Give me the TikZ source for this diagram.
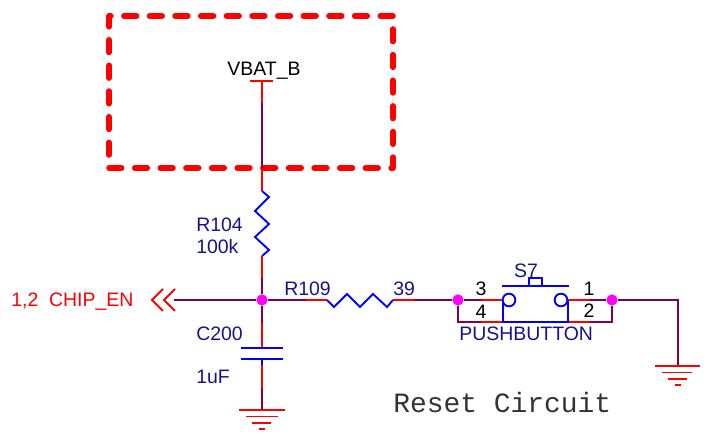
\documentclass[tikz,border=0pt]{standalone}
\usepackage{fontspec}
\setmainfont{Liberation Sans}
\newfontfamily\monofont{Liberation Mono}
\definecolor{wirecol}{RGB}{128,0,80}
\definecolor{labelcol}{RGB}{20,20,140}
\definecolor{dotcol}{RGB}{255,0,255}
\begin{document}
\begin{tikzpicture}[x=0.75pt,y=-0.75pt]
\tikzstyle{wire}=[draw=wirecol, line width=1.4pt]
\tikzstyle{pin}=[draw=red, line width=1.4pt]
\tikzstyle{part}=[draw=blue, line width=1.4pt]
\tikzstyle{dot}=[circle, fill=dotcol, inner sep=0pt, minimum size=8.2pt]
\tikzstyle{tx}=[inner sep=0pt, font=\fontsize{14.6}{16}\selectfont]
\tikzstyle{lbl}=[tx, text=labelcol]
\useasboundingbox (0,0) rectangle (708,438);

% outline round the supply
\draw[red, line width=4.4pt, line cap=round, line join=round, dash pattern=on 9.3pt off 9.935pt] (124,16) -- (393,16) -- (393,168) -- (109,168) -- (109,16) -- cycle;

\coordinate (VB) at (262,81);
\coordinate (VBa) at (262,103);
\coordinate (VBb) at (262,168);
\coordinate (R1a) at (262,191);
\coordinate (R1b) at (262,256);
\coordinate (R1c) at (262,278);
\node[dot] (J1) at (262,300) {};
\coordinate (C1a) at (262,323);
\coordinate (C1b) at (262,347);
\coordinate (C1c) at (262,359);
\coordinate (C1d) at (262,365);
\coordinate (C1e) at (262,388);
\coordinate (G1) at (262,410);

\coordinate (EN) at (174,300);
\coordinate (R2a) at (306,300);
\coordinate (R2b) at (327,300);
\coordinate (R2c) at (393,300);
\coordinate (R2d) at (415,300);
\node[dot] (J2) at (458,300) {};
\node[dot] (J3) at (612,300) {};
\coordinate (P3) at (481,300);
\coordinate (P3b) at (503,300);
\coordinate (P1) at (590,300);
\coordinate (P1b) at (568,300);
\coordinate (Q4) at (458,322);
\coordinate (P4) at (481,322);
\coordinate (P4b) at (503,322);
\coordinate (P2b) at (568,322);
\coordinate (P2) at (590,322);
\coordinate (Q2) at (612,322);
\coordinate (T1) at (678,300);
\coordinate (G2) at (678,366);

% net
\draw[pin] (VB) -- (VBa);
\draw[wire] (VBa) -- (VBb);
\draw[pin] (VBb) -- (R1a);
\draw[pin] (R1b) -- (R1c);
\draw[wire] (R1c) -- (J1);
\draw[wire] (J1) -- (C1a);
\draw[pin] (C1a) -- (C1b);
\draw[pin] (C1d) -- (C1e);
\draw[wire] (C1e) -- (G1);
\draw[wire] (EN) -- (J1);
\draw[wire] (J1) -- (R2a);
\draw[pin] (R2a) -- (R2b);
\draw[pin] (R2c) -- (R2d);
\draw[wire] (R2d) -- (J2);
\draw[wire] (J2) -- (P3);
\draw[pin] (P3) -- (P3b);
\draw[pin] (P1b) -- (P1);
\draw[wire] (P1) -- (J3);
\draw[wire] (J2) -- (Q4) -- (P4);
\draw[pin] (P4) -- (P4b);
\draw[pin] (P2b) -- (P2);
\draw[wire] (P2) -- (Q2) -- (J3);
\draw[wire, line join=miter] (J3) -- (T1) -- (G2);
\node[dot] at (J1) {};
\node[dot] at (J2) {};
\node[dot] at (J3) {};

% parts
\draw[pin] (250,81) -- (273,81);
\draw[part] (R1a) -- (269,197) -- (255,211) -- (269,224) -- (255,237) -- (269,250) -- (R1b);
\draw[part] (R2b) -- (334,307) -- (347,294) -- (360,307) -- (373,294) -- (387,307) -- (R2c);
\draw[part] (241,348) -- (283,348);
\draw[part] (241,359) -- (283,359);
\draw[part] (C1b) -- (262,348);
\draw[part] (C1c) -- (C1d);
\draw[pin] (152,300) ++(11,-11) -- (152,300) -- ++(11,11);
\draw[pin] (164,300) ++(11,-11) -- (164,300) -- ++(11,11);
\draw[pin] (239,410) -- (285,410);
\draw[pin] (246,416.5) -- (278,416.5);
\draw[pin] (252,423) -- (271,423);
\draw[pin] (259,429) -- (265,429);
\draw[pin] (655,366) -- (700,366);
\draw[pin] (662,372.5) -- (692,372.5);
\draw[pin] (668,379) -- (687,379);
\draw[pin] (675,385) -- (681,385);

% switch
\node[circle, part, inner sep=0pt, minimum size=9.5pt] (SWa) at (509,300) {};
\node[circle, part, inner sep=0pt, minimum size=9.5pt] (SWb) at (561,300) {};
\draw[part] (P3b) -- (P4b) -- (P2b) -- (P1b);
\draw[part, line width=2.2pt] (502,286) -- (569,286);
\draw[part] (529,286) -- (529,278) -- (542,278) -- (542,286);

% labels
\node[tx] at (264,71) {VBAT\_B};
\node[tx, text=red, anchor=west] (CHIP) at (11,302) {1,2\ \ CHIP\_EN};
\node[lbl, anchor=west] at (196,225) {R104};
\node[lbl, anchor=west] at (196,247) {100k};
\node[lbl, anchor=west] at (284,289) {R109};
\node[lbl, anchor=west] at (393,289) {39};
\node[lbl, anchor=west] at (196,334) {C200};
\node[lbl, anchor=west] at (196,377) {1uF};
\node[lbl] at (526,271) {S7};
\node[lbl, anchor=west] at (459,334) {PUSHBUTTON};
\node[tx] at (481,289) {3};
\node[tx] at (481,312) {4};
\node[tx] at (589,289) {1};
\node[tx] at (589,311) {2};
\node[inner sep=0pt, anchor=west, font=\monofont\fontsize{20.95}{22}\selectfont, text=black!80] at (393,403) {Reset Circuit};
\end{tikzpicture}
\end{document}
